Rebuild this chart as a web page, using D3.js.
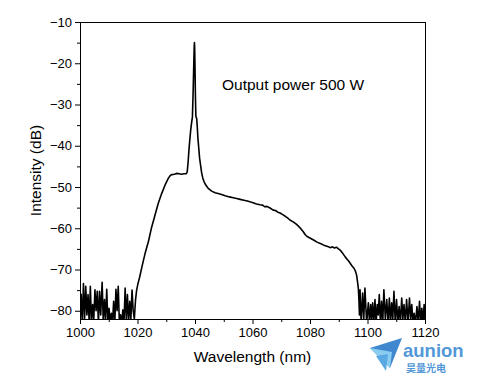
<!DOCTYPE html>
<html><head><meta charset="utf-8">
<script src="https://cdn.jsdelivr.net/npm/d3@7"></script>
<style>
html,body{margin:0;padding:0;background:#fff;}
text{font-family:"Liberation Sans",Arial,sans-serif;fill:#000;}
</style></head>
<body><svg id="c" width="478" height="378"></svg>
<script>
// ---- data ----
const xTicks = [1000, 1020, 1040, 1060, 1080, 1100, 1120];
const yTicks = [-80, -70, -60, -50, -40, -30, -20, -10];
const annotation = "Output power 500 W";

const noiseLeft = [[1000.0,-83],[1000.4,-76],[1000.8,-83],[1001.2,-73.4],[1001.6,-82],[1002.0,-74.1],[1002.4,-81],[1002.8,-76.1],[1003.2,-83],[1003.6,-74.1],[1004.0,-83],[1004.4,-78.5],[1004.8,-82],[1005.2,-74.9],[1005.6,-80],[1006.0,-75.3],[1006.4,-83],[1006.8,-75.3],[1007.2,-81],[1007.7,-73.1],[1008.1,-83],[1008.5,-77.3],[1008.9,-82],[1009.3,-74.8],[1009.7,-83],[1010.1,-79.4],[1010.5,-83],[1010.9,-80.6],[1011.3,-83],[1011.7,-77.7],[1012.1,-83],[1012.5,-74.8],[1012.9,-80],[1013.3,-74.1],[1013.7,-83],[1014.1,-81],[1014.5,-83],[1014.9,-79.8],[1015.3,-83],[1015.7,-74.5],[1016.1,-82],[1016.5,-76.1],[1016.9,-83],[1017.3,-77.7],[1017.7,-82],[1018.1,-75],[1018.5,-80],[1018.9,-82]];

const mainBand = [[1019.3,-77.5],[1019.7,-75],[1020.2,-73.3],[1020.7,-72],[1021.5,-69.5],[1022.6,-66.2],[1023.8,-63.2],[1024.9,-59.8],[1026.1,-56.8],[1027.2,-54],[1028.4,-51.6],[1029.6,-49.5],[1030.7,-47.9],[1031.4,-47.2],[1031.9,-47],[1032.8,-46.9],[1033.6,-46.7],[1034.5,-46.8],[1035.3,-46.9],[1036.2,-46.8],[1037.0,-46.8],[1037.3,-46.3],[1037.6,-44],[1037.9,-41],[1038.2,-38.5],[1038.5,-36.2],[1038.8,-34.5],[1039.1,-33],[1039.35,-27],[1039.55,-21],[1039.72,-16],[1039.8,-15],[1039.88,-16],[1040.0,-21],[1040.15,-28],[1040.3,-32.8],[1040.45,-33.2],[1040.6,-33.4],[1040.8,-35.5],[1041.0,-38],[1041.3,-40.5],[1041.6,-43],[1041.9,-44.5],[1042.3,-46.5],[1042.7,-47.8],[1043.2,-48.8],[1043.8,-49.6],[1044.7,-50.4],[1045.8,-51.0],[1047.0,-51.4],[1048.7,-51.7],[1050.5,-52.1],[1052.0,-52.4],[1053.3,-52.6],[1054.5,-52.8],[1055.7,-53.0],[1057.0,-53.2],[1058.2,-53.4],[1059.1,-53.6],[1060.2,-53.8],[1061.4,-54.1],[1062.6,-54.3],[1063.5,-54.4],[1064.3,-54.8],[1065.0,-54.7],[1066.1,-55.1],[1067.2,-55.6],[1068.0,-55.7],[1068.8,-56.1],[1069.6,-56.3],[1070.5,-56.7],[1071.4,-57.1],[1072.2,-57.5],[1073.0,-58.0],[1074.0,-58.4],[1075.0,-58.9],[1076.0,-59.5],[1076.8,-60.1],[1077.6,-60.8],[1078.3,-61.5],[1079.0,-62.0],[1079.8,-62.3],[1080.6,-62.6],[1081.4,-62.9],[1082.3,-63.3],[1083.2,-63.6],[1084.0,-63.8],[1084.8,-64.1],[1085.6,-64.3],[1086.4,-64.5],[1087.2,-64.7],[1087.8,-64.5],[1088.5,-64.8],[1089.2,-64.6],[1089.9,-65.0],[1090.5,-65.3],[1091.1,-65.8],[1091.7,-66.4],[1092.3,-67.0],[1092.9,-67.5],[1093.5,-68.0],[1094.1,-68.6],[1094.7,-69.2],[1095.3,-69.7],[1095.8,-70.4],[1096.2,-71.3],[1096.5,-72.8],[1096.8,-74.5],[1097.0,-77],[1097.2,-81]];

const noiseRight = [[1097.4,-74.9],[1097.8,-83],[1098.3,-75.7],[1098.7,-82],[1099.1,-74.5],[1099.7,-83],[1100.3,-78.1],[1100.7,-83],[1101.1,-78.5],[1101.45,-82],[1101.8,-78.1],[1102.2,-83],[1102.6,-77.3],[1103.0,-83],[1103.4,-78.5],[1103.75,-81],[1104.1,-76.1],[1104.5,-83],[1104.9,-77.7],[1105.3,-83],[1105.7,-74.9],[1106.2,-82],[1106.7,-77.3],[1107.15,-83],[1107.6,-76.9],[1108.0,-83],[1108.4,-78.1],[1108.8,-82],[1109.2,-75.3],[1109.65,-83],[1110.1,-77.3],[1110.55,-83],[1111.0,-79],[1111.45,-83],[1111.9,-76.9],[1112.3,-82],[1112.7,-78.5],[1113.15,-83],[1113.6,-77.3],[1114.1,-83],[1114.6,-76.9],[1115.0,-82],[1115.4,-78.5],[1115.8,-83],[1116.2,-80.6],[1116.7,-83],[1117.2,-79],[1117.65,-83],[1118.1,-77.7],[1118.5,-83],[1118.9,-79.4],[1119.3,-83],[1119.7,-78.5],[1120,-82]];

// ---- layout ----
const svg = d3.select("#c");
const L = 80, R = 425, T = 22, B = 319;
const x = d3.scaleLinear().domain([1000, 1120]).range([L, R]);
const y = d3.scaleLinear().domain([-82, -10]).range([B, T]);

svg.append("defs").append("clipPath").attr("id","clip")
  .append("rect").attr("x",L).attr("y",T).attr("width",R-L).attr("height",B-T);

const spectrum = noiseLeft.concat(mainBand, noiseRight);
const line = d3.line().x(d => x(d[0])).y(d => y(d[1]));
svg.append("path").datum(spectrum).attr("clip-path","url(#clip)")
  .attr("d", line).attr("fill","none").attr("stroke","#000")
  .attr("stroke-width",1.6).attr("stroke-linejoin","round");

// frame (top and right)
svg.append("line").attr("x1",L).attr("x2",R).attr("y1",T+0.5).attr("y2",T+0.5).attr("stroke","#000");
svg.append("line").attr("x1",R+0.5).attr("x2",R+0.5).attr("y1",T).attr("y2",B).attr("stroke","#000");

const fmt = d => (d < 0 ? "\u2212" + Math.abs(d) : String(d));

// axes with major and minor ticks
const xMinor = d3.range(1010, 1120, 20);
const yMinor = d3.range(-75, -10, 10);
svg.append("g").attr("transform",`translate(0,${B})`)
  .call(d3.axisBottom(x).tickValues(xTicks).tickSize(5).tickSizeOuter(0).tickPadding(4).tickFormat(fmt));
svg.append("g").attr("transform",`translate(0,${B})`)
  .call(d3.axisBottom(x).tickValues(xMinor).tickSize(3).tickFormat(""))
  .select(".domain").remove();
svg.append("g").attr("transform",`translate(${L},0)`)
  .call(d3.axisLeft(y).tickValues(yTicks).tickSize(5).tickSizeOuter(0).tickPadding(3).tickFormat(fmt));
svg.append("g").attr("transform",`translate(${L},0)`)
  .call(d3.axisLeft(y).tickValues(yMinor).tickSize(3).tickFormat(""))
  .select(".domain").remove();
svg.selectAll(".tick text").style("font-family","Liberation Sans, Arial, sans-serif").style("font-size","13px").attr("fill","#000");
svg.selectAll(".domain, .tick line").attr("stroke","#000");

// axis titles
svg.append("text").attr("x", (L+R)/2).attr("y", 362).attr("text-anchor","middle")
  .style("font-size","15.5px").text("Wavelength (nm)");
svg.append("text").attr("transform",`translate(41,${(T+B)/2}) rotate(-90)`).attr("text-anchor","middle")
  .style("font-size","15.5px").text("Intensity (dB)");

// annotation
svg.append("text").attr("x", 222).attr("y", 90).style("font-size","15.5px").text(annotation);

// watermark logo
const lg = svg.append("g").attr("transform","translate(370,338)");
lg.append("path").attr("d","M0,10 L32,0 L20,30 Z").attr("fill","#3f88cf");
lg.append("path").attr("d","M0,10 L22,14 L20,30 Z").attr("fill","#8bcdf0");
lg.append("path").attr("d","M6,18 L18,16 L16,33 Z").attr("fill","#5aa9e2");
svg.append("text").attr("x",403).attr("y",357).style("font-size","18.5px").style("font-weight","bold")
  .style("fill","#5297d8").text("aunion");
svg.append("text").attr("x",406).attr("y",372).style("font-family","Noto Sans CJK SC")
  .style("font-size","10px").style("font-weight","bold").style("fill","#5297d8").text("昊量光电");
</script></body></html>
